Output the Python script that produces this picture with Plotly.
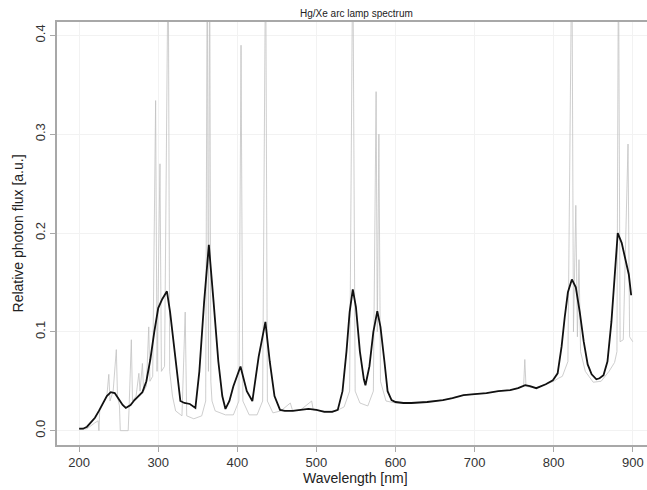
import plotly.graph_objects as go

# Smoothed (low resolution) spectrum - black line
smooth_wl = [200, 205, 210, 215, 220, 225, 230, 235, 240, 245, 250, 255, 259, 265, 270, 275, 280,
             285, 290, 295, 300, 305, 311, 315, 320, 325, 328, 333, 340, 347, 352, 358, 364, 370,
             376, 381, 385, 390, 395, 404, 412, 419, 427, 435.5, 441, 447, 454, 460, 470, 480,
             490, 500, 510, 520, 527, 533, 538, 542, 546, 550, 555, 560, 562, 567, 572, 577, 581,
             586, 590, 595, 600, 610, 620, 640, 660, 672, 686, 700, 715, 730, 745, 755, 764, 770,
             778, 790, 799, 805, 810, 814, 818, 823, 828, 833, 838, 843, 848, 854, 858, 863, 868,
             873, 877, 881, 886, 891, 895, 898]
smooth_val = [0.002, 0.002, 0.004, 0.008, 0.013, 0.020, 0.028, 0.035, 0.039, 0.038, 0.032, 0.026,
              0.023, 0.026, 0.031, 0.035, 0.039, 0.050, 0.072, 0.100, 0.124, 0.133, 0.141, 0.120,
              0.085, 0.045, 0.030, 0.028, 0.027, 0.023, 0.060, 0.130, 0.188, 0.130, 0.070, 0.035,
              0.022, 0.030, 0.045, 0.065, 0.040, 0.030, 0.075, 0.110, 0.070, 0.035, 0.021, 0.020,
              0.020, 0.021, 0.022, 0.021, 0.019, 0.019, 0.021, 0.040, 0.080, 0.120, 0.143, 0.125,
              0.080, 0.052, 0.046, 0.065, 0.100, 0.121, 0.105, 0.070, 0.040, 0.031, 0.029, 0.028,
              0.028, 0.029, 0.031, 0.033, 0.036, 0.037, 0.038, 0.040, 0.041, 0.043, 0.046, 0.045,
              0.043, 0.047, 0.051, 0.058, 0.085, 0.115, 0.140, 0.153, 0.145, 0.120, 0.090, 0.067,
              0.057, 0.052, 0.053, 0.056, 0.070, 0.110, 0.160, 0.200, 0.190, 0.172, 0.158, 0.137]

# High resolution spectrum - grey line
raw_wl = [200, 210, 220, 224, 225, 226, 230, 235, 237.5, 239, 243, 247, 248.5, 251, 252, 262, 263,
          266, 267.5, 272, 275.5, 277, 280, 281.5, 285, 288, 289.5, 293, 296.7, 298.5, 302.2, 304,
          308, 312.6, 314.5, 318, 322, 330, 334.1, 336, 345, 355, 360, 362, 363.5, 365, 366.5, 368,
          372, 385, 395, 402, 404.7, 407, 415, 425, 432, 435.8, 438, 445, 455, 467, 470, 480, 494,
          496, 510, 525, 535, 542, 546, 547.5, 549, 555, 565, 572, 575.5, 577, 579, 581, 588, 600,
          620, 640, 660, 672, 686, 700, 715, 730, 745, 755, 762, 763.5, 765, 770, 778, 790, 800,
          806, 811, 818, 823, 825, 828, 830, 832, 834, 840, 850, 860, 870, 877, 880, 881.9, 884,
          888, 894, 896, 900]
raw_val = [0.001, 0.002, 0.008, 0.010, 0.000, 0.020, 0.027, 0.035, 0.057, 0.030, 0.040, 0.082,
           0.035, 0.025, 0.000, 0.000, 0.020, 0.092, 0.030, 0.035, 0.058, 0.040, 0.068, 0.040,
           0.045, 0.105, 0.050, 0.055, 0.334, 0.060, 0.270, 0.060, 0.065, 0.500, 0.060, 0.035,
           0.020, 0.015, 0.120, 0.015, 0.012, 0.015, 0.030, 0.500, 0.060, 0.500, 0.050, 0.030,
           0.020, 0.016, 0.016, 0.030, 0.390, 0.030, 0.016, 0.016, 0.030, 0.500, 0.030, 0.018,
           0.020, 0.028, 0.020, 0.021, 0.030, 0.021, 0.020, 0.020, 0.024, 0.040, 0.500, 0.196,
           0.040, 0.028, 0.025, 0.040, 0.343, 0.100, 0.300, 0.050, 0.030, 0.028, 0.028, 0.029,
           0.031, 0.033, 0.036, 0.037, 0.038, 0.040, 0.041, 0.043, 0.045, 0.072, 0.045, 0.044,
           0.043, 0.047, 0.050, 0.053, 0.055, 0.070, 0.500, 0.100, 0.228, 0.095, 0.173, 0.080,
           0.060, 0.049, 0.050, 0.060, 0.069, 0.080, 0.500, 0.090, 0.092, 0.290, 0.095, 0.090]

x_ticks = [200, 300, 400, 500, 600, 700, 800, 900]
y_ticks = [0.0, 0.1, 0.2, 0.3, 0.4]
y_tick_text = ["0.0", "0.1", "0.2", "0.3", "0.4"]

FONT = "Liberation Sans, Arial, sans-serif"

W, H = 647, 490
L, T, B, R = 56.6, 22, 45, 0

fig = go.Figure()
fig.add_trace(go.Scatter(x=raw_wl, y=raw_val, mode="lines",
                         line=dict(color="#c2c2c2", width=0.8), showlegend=False,
                         hoverinfo="skip"))
fig.add_trace(go.Scatter(x=smooth_wl, y=smooth_val, mode="lines",
                         line=dict(color="#111111", width=1.8), showlegend=False,
                         hoverinfo="skip"))

fig.update_layout(
    width=W, height=H,
    margin=dict(l=L, r=R, t=T, b=B, pad=0),
    paper_bgcolor="white", plot_bgcolor="white",
    font=dict(family=FONT, color="#333333", size=13),
    xaxis=dict(range=[172, 918], tickvals=x_ticks, showgrid=True, gridcolor="#f2f2f2",
               gridwidth=1, zeroline=False, showline=True, linecolor="#a8a8a8", linewidth=1.5,
               mirror=True, ticks="outside", ticklen=5, tickcolor="#a8a8a8",
               tickfont=dict(size=13, color="#333333"), automargin=False,
               ticklabeloverflow="allow"),
    yaxis=dict(range=[-0.0145, 0.4135], tickvals=y_ticks, ticktext=y_tick_text, tickangle=-90,
               showgrid=True, gridcolor="#f2f2f2", gridwidth=1, zeroline=False, showline=True,
               linecolor="#a8a8a8", linewidth=1.5, mirror=False, ticks="outside", ticklen=5,
               tickcolor="#a8a8a8", tickfont=dict(size=13, color="#333333"), automargin=False),
)

pw = W - L - R
ph = H - T - B


def px_x(px):
    return (px - L) / pw


def px_y(py):
    return (H - B - py) / ph


fig.add_annotation(text="Hg/Xe arc lamp spectrum", x=px_x(356), y=px_y(14), xref="paper",
                   yref="paper", showarrow=False, font=dict(size=10, color="#222222"),
                   xanchor="center", yanchor="middle")
fig.add_annotation(text="Wavelength [nm]", x=px_x(355), y=px_y(478), xref="paper", yref="paper",
                   showarrow=False, font=dict(size=14, color="#222222"),
                   xanchor="center", yanchor="middle")
fig.add_annotation(text="Relative photon flux [a.u.]", x=px_x(18), y=px_y(233), xref="paper",
                   yref="paper", showarrow=False, textangle=-90, font=dict(size=14, color="#222222"),
                   xanchor="center", yanchor="middle")

fig.write_html("out.html",
               config={"displayModeBar": False},
               post_script="document.body.style.margin='0';document.body.style.overflow='hidden';")
